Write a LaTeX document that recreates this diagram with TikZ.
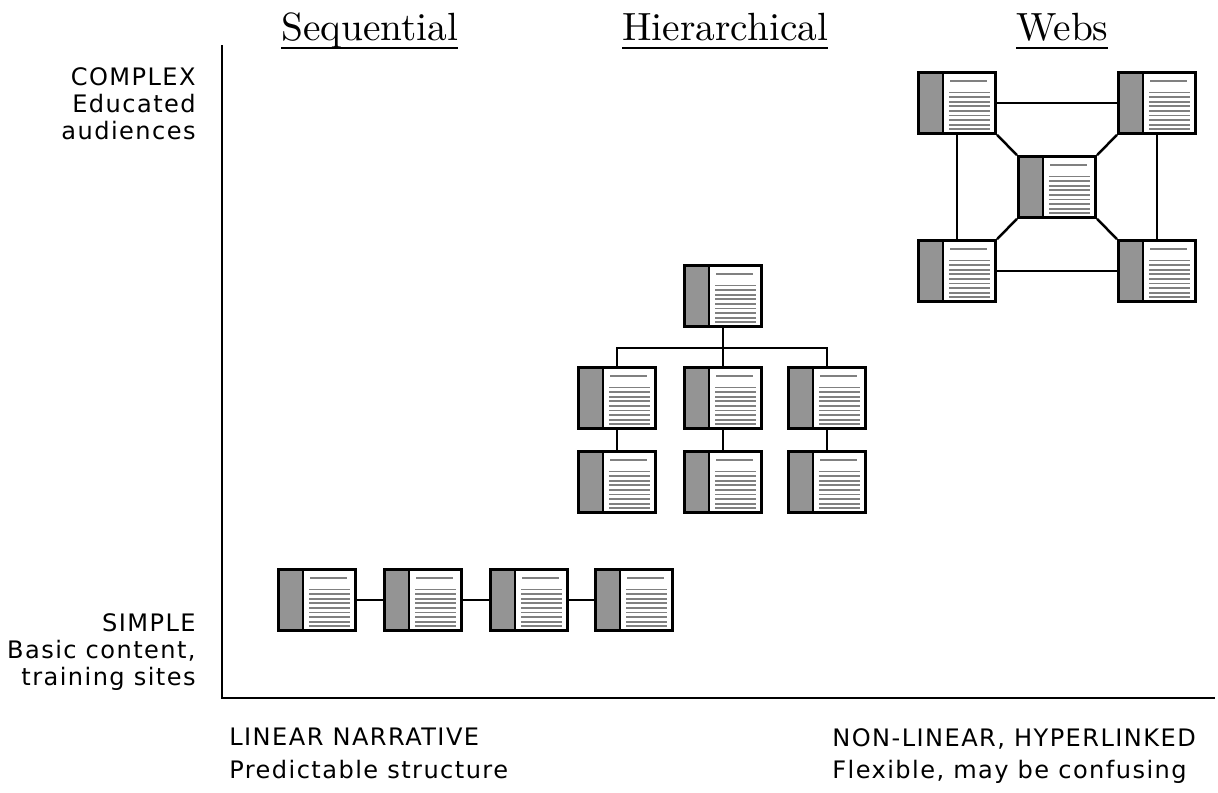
\documentclass[tikz,border=0pt]{standalone}
\usepackage{fontspec}
\usepackage{tikz}
\usetikzlibrary{positioning}
\newfontfamily\labelfont[LetterSpace=6]{DejaVu Sans}
\newfontfamily\headfont{lmroman10-regular.otf}
\newcommand{\headunder}[1]{\setbox0\hbox{#1}\rlap{\rule[-5pt]{\wd0}{1.1pt}}\box0}
\definecolor{stripgray}{gray}{0.58}
\definecolor{linegray}{gray}{0.5}

\begin{document}
\begin{tikzpicture}[x=0.02cm, y=-0.02cm,
  axis/.style={line width=1.1pt},
  link/.style={line width=1.4pt},
  heading/.style={anchor=base west, inner sep=0pt, font=\headfont\fontsize{22.4}{27}\selectfont},
  axislabel/.style={inner sep=0pt, font=\labelfont\fontsize{13.7}{15.4}\selectfont},
  textline/.style={linegray, line width=1pt},
  page/.style={draw, line width=1.5pt, minimum width=1.55cm, minimum height=1.22cm, inner sep=0pt,
    path picture={
      \fill[stripgray] (path picture bounding box.south west) rectangle ([xshift=0.5cm]path picture bounding box.north west);
      \draw[line width=1.3pt] ([xshift=0.5cm]path picture bounding box.south west) -- ([xshift=0.5cm]path picture bounding box.north west);
      \draw[textline] ([shift={(0.64cm,-0.17cm)}]path picture bounding box.north west) -- ++(0.74cm,0);
      \foreach \k in {0,...,8}
        \draw[textline] ([shift={(0.62cm,{-0.40cm-\k*0.092cm})}]path picture bounding box.north west) -- ++(0.82cm,0);
    }}]
\useasboundingbox (0,0) rectangle (1218,792);

% axes
\coordinate (ytop) at (222,45);
\coordinate (origin) at (222,698);
\coordinate (xend) at (1215,698);
\draw[axis] (ytop) -- (origin) -- (xend);

% headings
\node[heading] (seqhead) at (281,40) {\headunder{Sequential}};
\node[heading] (hierhead) at (622,40) {\headunder{Hierarchical}};
\node[heading] (webhead) at (1016,40) {\headunder{Webs}};

% axis labels
\node[axislabel, anchor=north east, align=right] (complex) at (196,67) {COMPLEX\\Educated\\audiences};
\node[axislabel, anchor=north east, align=right] (simple) at (196,613) {SIMPLE\\Basic content,\\training sites};
\node[axislabel, anchor=north west, align=left, font=\labelfont\fontsize{13.7}{18.6}\selectfont] (linear) at (229,728) {LINEAR NARRATIVE\\Predictable structure};
\node[axislabel, anchor=north west, align=left, font=\labelfont\fontsize{13.7}{18.6}\selectfont] (nonlinear) at (832,728) {NON-LINEAR, HYPERLINKED\\Flexible, may be confusing};

% sequential
\node[page] (s1) at (317,600) {};
\node[page] (s2) at (423,600) {};
\node[page] (s3) at (529,600) {};
\node[page] (s4) at (634,600) {};
\draw[link] (s1) -- (s2);
\draw[link] (s2) -- (s3);
\draw[link] (s3) -- (s4);

% hierarchical
\node[page] (h0) at (723,296) {};
\node[page] (h1) at (617,398) {};
\node[page] (h2) at (723,398) {};
\node[page] (h3) at (827,398) {};
\node[page] (h4) at (617,482) {};
\node[page] (h5) at (723,482) {};
\node[page] (h6) at (827,482) {};
\draw[link] (h1.north) -- ++(0,-18) -| (h3.north);
\draw[link] (h0) -- (h2);
\draw[link] (h1) -- (h4);
\draw[link] (h2) -- (h5);
\draw[link] (h3) -- (h6);

% webs
\node[page] (w1) at (957,103) {};
\node[page] (w2) at (1157,103) {};
\node[page] (wc) at (1057,187) {};
\node[page] (w3) at (957,271) {};
\node[page] (w4) at (1157,271) {};
\draw[link] (w1) -- (w2);
\draw[link] (w3) -- (w4);
\draw[link] (w1) -- (w3);
\draw[link] (w2) -- (w4);
\draw[link] (w1.south east) -- (wc.north west);
\draw[link] (w2.south west) -- (wc.north east);
\draw[link] (w3.north east) -- (wc.south west);
\draw[link] (w4.north west) -- (wc.south east);
\end{tikzpicture}
\end{document}
